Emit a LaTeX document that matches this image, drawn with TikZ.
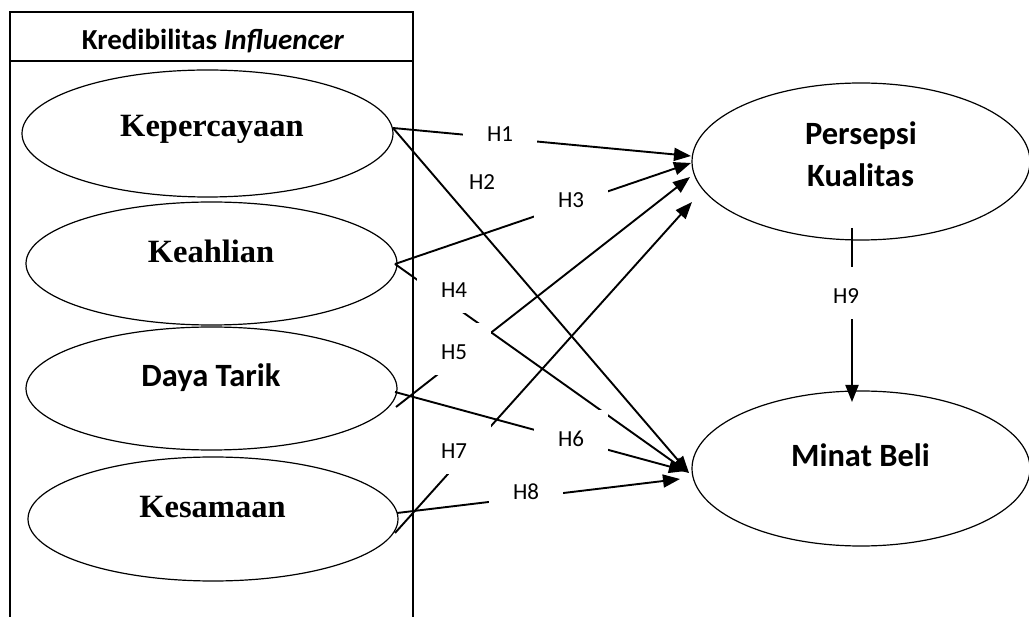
\documentclass[tikz,border=0pt]{standalone}
\usepackage{fontspec}
\setmainfont{Liberation Serif}
\newfontfamily\calfont{Carlito}
\usetikzlibrary{shapes.geometric,arrows.meta}
\begin{document}
\begin{tikzpicture}[x=1pt,y=-1pt,
  ell/.style={draw, ellipse, line width=1.2pt, inner sep=0pt},
  serifbig/.style={font=\fontsize{32.5}{38}\selectfont\bfseries, anchor=base, inner sep=0pt},
  sansbig/.style={font=\calfont\fontsize{32.5}{38}\selectfont\bfseries, anchor=base, inner sep=0pt},
  headtxt/.style={font=\calfont\fontsize{29}{32}\selectfont\bfseries, anchor=base, inner sep=0pt},
  hlab/.style={font=\calfont\fontsize{23}{26}\selectfont, fill=white, inner sep=0pt,
    text height=36.5pt, text depth=15.5pt, minimum width=74pt, anchor=base},
  hlabclear/.style={hlab, fill=none},
  conn/.style={line width=1.9pt, -{Triangle[length=17pt,width=13pt]}},
  frame/.style={line width=1.4pt}]
\useasboundingbox (0,0) rectangle (1029,617);

% frame of the left group
\draw[frame] (10,617) -- (10,12) -- (413,12) -- (413,617);
\draw[frame] (10,61) -- (413,61);
\node[headtxt] (hdr) at (213,50) {Kredibilitas \textit{Influencer}};

% ellipses
\node[ell, minimum width=371pt, minimum height=127pt] (kep) at (207.5,133.5) {};
\node[ell, minimum width=371pt, minimum height=123pt] (kea) at (211.5,263.5) {};
\node[ell, minimum width=371pt, minimum height=123pt] (day) at (211.5,388.5) {};
\node[ell, minimum width=370pt, minimum height=124pt] (kes) at (213,519) {};
\node[ell, minimum width=338pt, minimum height=157pt] (per) at (861,161.5) {};
\node[ell, minimum width=338pt, minimum height=155pt] (min) at (861,468.5) {};

\node[serifbig] (kept) at (212,137) {Kepercayaan};
\node[serifbig] (keat) at (211,263) {Keahlian};
\node[sansbig] (dayt) at (211,387) {Daya Tarik};
\node[serifbig] (kest) at (212.5,518) {Kesamaan};
\node[sansbig] (pert1) at (861,145) {Persepsi};
\node[sansbig] (pert2) at (860.5,187) {Kualitas};
\node[sansbig] (mint) at (860.5,467) {Minat Beli};

% connector end points
\coordinate (s1) at (393,128);
\coordinate (s3) at (395,264);
\coordinate (s5) at (396,407);
\coordinate (s6) at (395,392);
\coordinate (s7) at (395,533);
\coordinate (s8) at (397,513);
\coordinate (t1) at (691,156);
\coordinate (t3) at (691,163);
\coordinate (t5) at (690,177);
\coordinate (t7) at (692,202);
\coordinate (t2) at (689,473);
\coordinate (t6) at (686,471);
\coordinate (t8) at (680,479);
\coordinate (s9) at (852,228);
\coordinate (t9) at (852,402);

% connectors
\draw[conn] (s1) -- (t1);
\draw[conn] (s1) -- (t2);
\draw[conn] (s3) -- (t3);
\draw[conn] (s3) -- (t2);
\draw[conn] (s5) -- (t5);
\draw[conn] (s6) -- (t6);
\draw[conn] (s7) -- (t7);
\draw[conn] (s8) -- (t8);
\draw[conn] (s9) -- (t9);

% labels (white text boxes)
\node[hlab] (h1) at (500,142) {H1};
\node[hlabclear] (h2) at (482,190) {H2};
\node[hlab] (h3) at (571,208) {H3};
\node[hlab] (h4) at (454,298) {H4};
\node[hlab] (h5) at (454,360) {H5};
\node[hlab] (h6) at (571,447) {H6};
\node[hlab] (h7) at (454,459) {H7};
\node[hlab] (h8) at (526,500) {H8};
\node[hlab] (h9) at (846,304) {H9};
\end{tikzpicture}
\end{document}
